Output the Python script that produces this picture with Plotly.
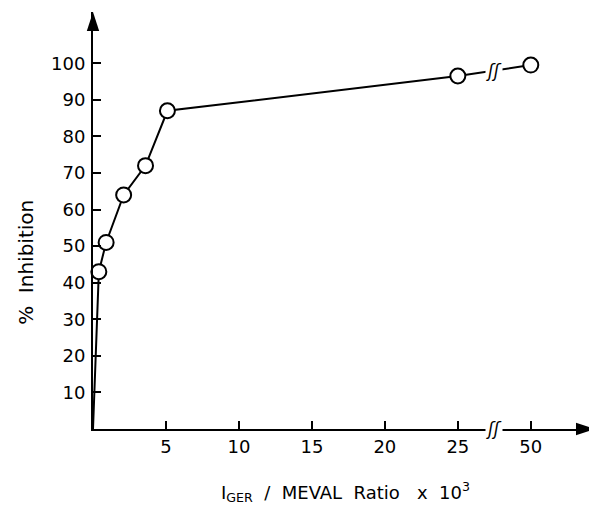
import plotly.graph_objects as go

# Data: I_GER / MEVAL ratio (x 10^3) vs % inhibition
ratio = [0, 0.4, 0.9, 2.1, 3.6, 5.1, 25, 50]
inhibition = [0, 43, 51, 64, 72, 87, 96.5, 99.5]
x_tick_vals = [5, 10, 15, 20, 25, 50]
y_tick_vals = [10, 20, 30, 40, 50, 60, 70, 80, 90, 100]

BREAK_START, BREAK_SCALE = 25, 5 / 25  # axis break: 25 -> 50 compressed


def pos(v):
    return v if v <= BREAK_START else BREAK_START + (v - BREAK_START) * BREAK_SCALE


xp = [pos(v) for v in ratio]
x_max, y_max = 34.4, 114
FONT = "DejaVu Sans"

fig = go.Figure()
fig.add_trace(go.Scatter(
    x=xp, y=inhibition, mode="lines", line=dict(color="black", width=2),
    hoverinfo="skip", showlegend=False))
fig.add_trace(go.Scatter(
    x=xp[1:], y=inhibition[1:], mode="markers",
    marker=dict(symbol="circle", size=15, color="white",
                line=dict(color="black", width=2)),
    cliponaxis=False, showlegend=False))
# axis arrowheads
fig.add_trace(go.Scatter(
    x=[0], y=[y_max], mode="markers", cliponaxis=False, hoverinfo="skip",
    marker=dict(symbol="arrow", size=20, angle=0, color="black",
                line=dict(width=0)), showlegend=False))
fig.add_trace(go.Scatter(
    x=[x_max], y=[0], mode="markers", cliponaxis=False, hoverinfo="skip",
    marker=dict(symbol="arrow", size=20, angle=90, color="black",
                line=dict(width=0)), showlegend=False))

# page body has an 8px margin, so the figure is 8px smaller than the window
fig.update_layout(
    width=589, height=501,
    margin=dict(l=85, r=2, t=4, b=79.5),
    plot_bgcolor="white", paper_bgcolor="white",
    font=dict(family=FONT, color="black", size=18),
    xaxis=dict(
        range=[0, x_max], showgrid=False, zeroline=False, automargin=False,
        showline=True, linecolor="black", linewidth=2,
        tickmode="array", tickvals=[pos(v) for v in x_tick_vals],
        ticktext=[str(v) for v in x_tick_vals],
        ticks="inside", ticklen=8, tickwidth=1.5, tickcolor="black",
        tickfont=dict(size=18, family=FONT),
    ),
    yaxis=dict(
        range=[0, y_max], showgrid=False, zeroline=False, automargin=False,
        showline=True, linecolor="black", linewidth=2,
        tickmode="array", tickvals=y_tick_vals,
        ticktext=[str(v) for v in y_tick_vals],
        ticks="inside", ticklen=8, tickwidth=1.5, tickcolor="black",
        tickfont=dict(size=18, family=FONT), ticklabelstandoff=2,
    ),
)

# axis titles
fig.add_annotation(x=0.502, y=-0.152, xref="paper", yref="paper",
                   xanchor="center", yanchor="middle",
                   text="I<sub>GER</sub>  /  MEVAL  Ratio   x  10<sup>3</sup>",
                   showarrow=False, font=dict(size=18, family=FONT))
fig.add_annotation(x=-0.135, y=0.399, xref="paper", yref="paper",
                   xanchor="center", yanchor="middle",
                   text="%  Inhibition", textangle=-90,
                   showarrow=False, font=dict(size=20, family=FONT))

# break marks on the axis and on the line segment
bx = (pos(25) + pos(50)) / 2
y_line = inhibition[-2] + (inhibition[-1] - inhibition[-2]) * (bx - pos(25)) / (pos(50) - pos(25))
for yy in (0, y_line):
    fig.add_annotation(x=bx, y=yy, xref="x", yref="y", text="<i>ʃʃ</i>",
                       showarrow=False, bgcolor="white", borderpad=0,
                       font=dict(size=17, family=FONT, color="black"))

fig.write_html("out.html")
